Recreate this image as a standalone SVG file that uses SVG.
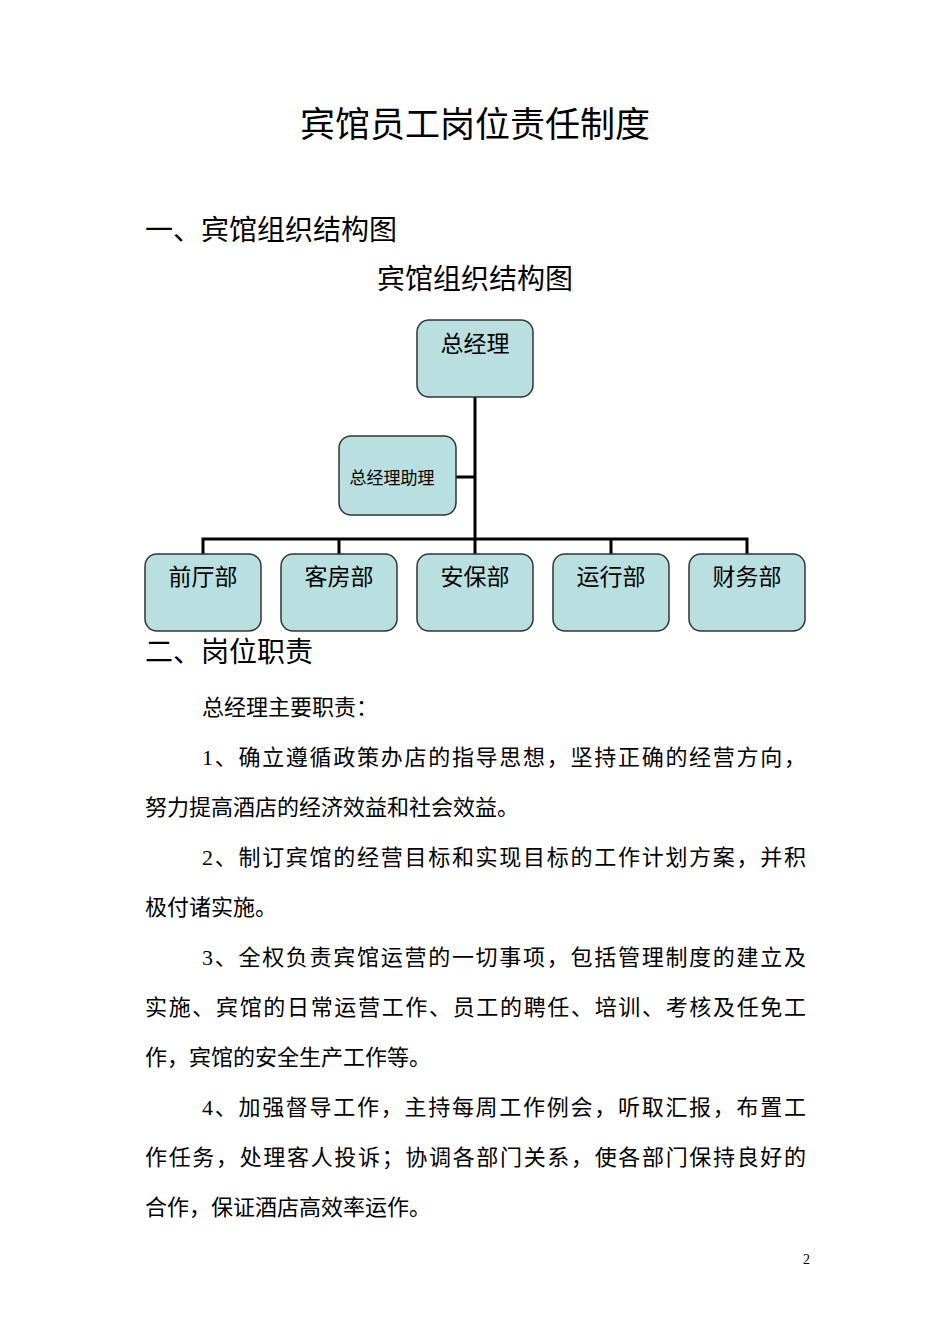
<svg xmlns="http://www.w3.org/2000/svg" width="950" height="1344" viewBox="0 0 950 1344">
<style>
text{font-family:"Liberation Serif","Noto Sans CJK SC",serif;fill:#000}
.b{font-size:22px}
.h{font-size:28px}
.box{fill:#b9dfe1;stroke:#333;stroke-width:1.5}
.n{font-size:23px;text-anchor:middle}
.c{stroke:#000;stroke-width:3;fill:none}
</style>
<rect width="950" height="1344" fill="#fff"/>
<text x="475" y="137" text-anchor="middle" style="font-size:35px">宾馆员工岗位责任制度</text>
<text x="145" y="240" class="h">一、宾馆组织结构图</text>
<text x="475" y="289" class="h" text-anchor="middle">宾馆组织结构图</text>
<g id="connectors">
<path class="c" d="M475 397V554M456 477H475M203 554V539H747V554M339 539V554M611 539V554"/>
</g>
<g id="n-gm"><rect class="box" x="417" y="320" width="116" height="77" rx="12"/><text class="n" x="475" y="352">总经理</text></g>
<g id="n-asst"><rect class="box" x="339" y="436" width="117" height="79" rx="12"/><text x="392" y="484" style="font-size:17px" text-anchor="middle">总经理助理</text></g>
<g id="n-1"><rect class="box" x="145" y="554" width="116" height="77" rx="12"/><text class="n" x="203" y="585">前厅部</text></g>
<g id="n-2"><rect class="box" x="281" y="554" width="116" height="77" rx="12"/><text class="n" x="339" y="585">客房部</text></g>
<g id="n-3"><rect class="box" x="417" y="554" width="116" height="77" rx="12"/><text class="n" x="475" y="585">安保部</text></g>
<g id="n-4"><rect class="box" x="553" y="554" width="116" height="77" rx="12"/><text class="n" x="611" y="585">运行部</text></g>
<g id="n-5"><rect class="box" x="689" y="554" width="116" height="77" rx="12"/><text class="n" x="747" y="585">财务部</text></g>
<text x="145" y="662" class="h">二、岗位职责</text>
<text x="202" y="715" class="b">总经理主要职责：</text>
<text x="202" y="765" class="b" textLength="604" lengthAdjust="spacing">1、确立遵循政策办店的指导思想，坚持正确的经营方向，</text>
<text x="145" y="815" class="b">努力提高酒店的经济效益和社会效益。</text>
<text x="202" y="865" class="b" textLength="604" lengthAdjust="spacing">2、制订宾馆的经营目标和实现目标的工作计划方案，并积</text>
<text x="145" y="915" class="b">极付诸实施。</text>
<text x="202" y="965" class="b" textLength="604" lengthAdjust="spacing">3、全权负责宾馆运营的一切事项，包括管理制度的建立及</text>
<text x="145" y="1015" class="b" textLength="661" lengthAdjust="spacing">实施、宾馆的日常运营工作、员工的聘任、培训、考核及任免工</text>
<text x="145" y="1065" class="b">作，宾馆的安全生产工作等。</text>
<text x="202" y="1115" class="b" textLength="604" lengthAdjust="spacing">4、加强督导工作，主持每周工作例会，听取汇报，布置工</text>
<text x="145" y="1165" class="b" textLength="661" lengthAdjust="spacing">作任务，处理客人投诉；协调各部门关系，使各部门保持良好的</text>
<text x="145" y="1215" class="b">合作，保证酒店高效率运作。</text>
<text x="803" y="1264" style="font-size:14px">2</text>
</svg>
